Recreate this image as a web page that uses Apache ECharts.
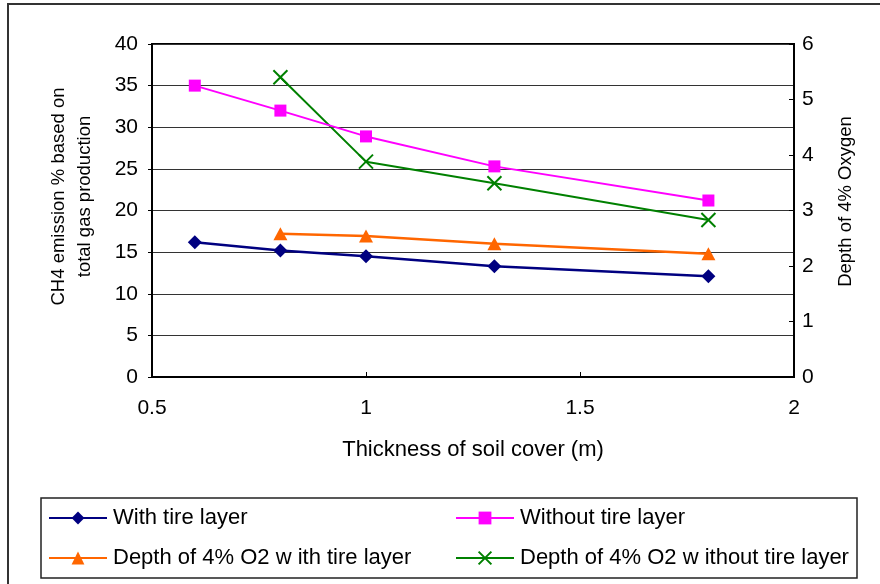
<!DOCTYPE html>
<html>
<head>
<meta charset="utf-8">
<script src="https://cdn.jsdelivr.net/npm/echarts@6/dist/echarts.min.js"></script>
<style>
html,body{margin:0;padding:0;background:#fff;}
#chart{width:880px;height:584px;}
</style>
</head>
<body>
<div id="chart"></div>
<script>
// Data
var thickness = [0.6, 0.8, 1.0, 1.3, 1.8];
var withTire = [16.2, 15.2, 14.5, 13.3, 12.1];
var withoutTire = [35.0, 32.0, 28.9, 25.3, 21.2];
var o2Thickness = [0.8, 1.0, 1.3, 1.8];
var o2WithTire = [2.58, 2.54, 2.40, 2.22];
var o2WithoutTire = [5.40, 3.88, 3.49, 2.83];

var seriesNames = ['With tire layer', 'Without tire layer', 'Depth of 4% O2 w ith tire layer', 'Depth of 4% O2 w ithout tire layer'];
var xAxisTitle = 'Thickness of soil cover (m)';
var leftAxisTitle = 'CH4 emission % based on\ntotal gas production';
var rightAxisTitle = 'Depth of 4% Oxygen';

function pairs(xs, ys) { return xs.map(function (x, i) { return [x, ys[i]]; }); }

var FONT = '"Liberation Sans", Arial, sans-serif';
var crossPath = 'path://M0,0L10,10M10,0L0,10';

var chart = echarts.init(document.getElementById('chart'), null, {renderer: 'canvas'});

function legendAt(name, left, top) {
  return {
    data: [name], left: left, top: top, orient: 'horizontal',
    itemWidth: 58, itemHeight: 16, itemGap: 0, padding: 0,
    textStyle: {fontFamily: FONT, fontSize: 22, color: '#000', padding: [0, 0, 0, 1]},
    selectedMode: false
  };
}

var option = {
  backgroundColor: '#fff',
  animation: false,
  textStyle: {fontFamily: FONT},
  graphic: [
    {type: 'rect', shape: {x: 8, y: 4, width: 900, height: 620}, style: {fill: 'none', stroke: '#333', lineWidth: 2}, silent: true, z: -1},
    {type: 'rect', shape: {x: 41, y: 498, width: 816, height: 80}, style: {fill: 'none', stroke: '#222', lineWidth: 1.5}, silent: true}
  ],
  legend: [
    legendAt(seriesNames[0], 48, 507),
    legendAt(seriesNames[1], 455, 507),
    legendAt(seriesNames[2], 48, 547),
    legendAt(seriesNames[3], 455, 547)
  ],
  grid: {
    left: 152, right: 86, top: 44, bottom: 207,
    show: true, borderColor: '#000', borderWidth: 2, backgroundColor: 'transparent'
  },
  xAxis: {
    type: 'value', min: 0.5, max: 2, interval: 0.5,
    name: xAxisTitle, nameLocation: 'middle', nameGap: 62,
    nameTextStyle: {fontFamily: FONT, fontSize: 22, color: '#000'},
    axisLine: {show: true, lineStyle: {color: '#000', width: 2}},
    axisTick: {show: true, inside: true, length: 5, lineStyle: {color: '#000', width: 1}},
    axisLabel: {fontFamily: FONT, fontSize: 21, color: '#000', margin: 21},
    splitLine: {show: false}
  },
  yAxis: [
    {
      type: 'value', min: 0, max: 40, interval: 5, position: 'left',
      name: leftAxisTitle, nameLocation: 'middle', nameGap: 54, nameRotate: 90,
      nameTextStyle: {fontFamily: FONT, fontSize: 18.5, color: '#000', lineHeight: 26, align: 'center', padding: [0, 0, 0, 28]},
      axisLine: {show: true, lineStyle: {color: '#000', width: 2}},
      axisTick: {show: true, inside: false, length: 4, lineStyle: {color: '#000', width: 1}},
      axisLabel: {fontFamily: FONT, fontSize: 21, color: '#000', margin: 14},
      splitLine: {show: true, lineStyle: {color: '#333', width: 1}}
    },
    {
      type: 'value', min: 0, max: 6, interval: 1, position: 'right',
      name: rightAxisTitle, nameLocation: 'middle', nameGap: 42, nameRotate: 90,
      nameTextStyle: {fontFamily: FONT, fontSize: 18.5, color: '#000', padding: [0, 0, 0, 18]},
      axisLine: {show: true, lineStyle: {color: '#000', width: 2}},
      axisTick: {show: true, inside: true, length: 5, lineStyle: {color: '#000', width: 1}},
      axisLabel: {fontFamily: FONT, fontSize: 21, color: '#000', margin: 8},
      splitLine: {show: false}
    }
  ],
  series: [
    {
      name: seriesNames[0], type: 'line', yAxisIndex: 0,
      data: pairs(thickness, withTire),
      symbol: 'diamond', symbolSize: 14,
      itemStyle: {color: '#000080'},
      lineStyle: {color: '#000080', width: 2.5},
      z: 5
    },
    {
      name: seriesNames[1], type: 'line', yAxisIndex: 0,
      data: pairs(thickness, withoutTire),
      symbol: 'rect', symbolSize: 12,
      itemStyle: {color: '#FF00FF'},
      lineStyle: {color: '#FF00FF', width: 2},
      z: 4
    },
    {
      name: seriesNames[2], type: 'line', yAxisIndex: 1,
      data: pairs(o2Thickness, o2WithTire),
      symbol: 'triangle', symbolSize: [14, 13],
      itemStyle: {color: '#FF6600'},
      lineStyle: {color: '#FF6600', width: 2.5},
      z: 3
    },
    {
      name: seriesNames[3], type: 'line', yAxisIndex: 1,
      data: pairs(o2Thickness, o2WithoutTire),
      symbol: crossPath, symbolSize: 14,
      itemStyle: {color: '#008000', borderColor: '#008000', borderWidth: 2},
      lineStyle: {color: '#008000', width: 2},
      z: 2
    }
  ]
};
chart.setOption(option);
</script>
</body>
</html>
